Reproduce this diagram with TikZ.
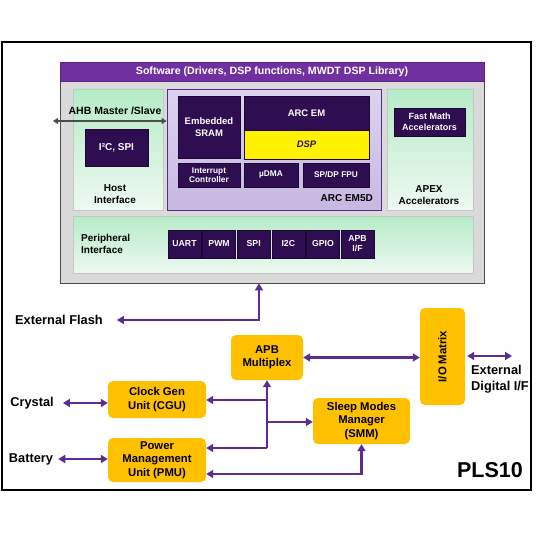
\documentclass[tikz,border=0pt]{standalone}
\usepackage{fontspec}
\setmainfont{Liberation Sans}
\usetikzlibrary{arrows.meta}
\definecolor{swpurple}{HTML}{7030A0}
\definecolor{swline}{HTML}{5A2384}
\definecolor{socgray}{HTML}{DADADA}
\definecolor{greentop}{HTML}{B6EBC8}
\definecolor{greenbot}{HTML}{EEF8F1}
\definecolor{arctop}{HTML}{DDD3EF}
\definecolor{arcbot}{HTML}{C7B7E2}
\definecolor{arcline}{HTML}{4E2E82}
\definecolor{darkpurple}{HTML}{2E0E50}
\definecolor{darkline}{HTML}{1C0633}
\definecolor{unitorange}{HTML}{FFC000}
\definecolor{buspurple}{HTML}{5C2C90}
\begin{document}
\begin{tikzpicture}[x=1pt,y=-1pt,
  wh/.style 2 args={minimum width=#1pt,minimum height=#2pt},
  txt/.style={font=\fontsize{10}{12}\selectfont\bfseries,align=center,inner sep=0pt},
  small/.style={txt,font=\fontsize{8.3}{9.5}\selectfont\bfseries},
  ext/.style={txt,font=\fontsize{12.8}{16}\selectfont\bfseries},
  greenpanel/.style={draw=gray!45,top color=greentop,bottom color=greenbot,inner sep=0pt},
  core/.style={draw=arcline,line width=0.8pt,top color=arctop,bottom color=arcbot,inner sep=0pt},
  darkbox/.style={txt,draw=darkline,fill=darkpurple,text=white,font=\fontsize{9.5}{11.5}\selectfont\bfseries},
  unit/.style={txt,fill=unitorange,rounded corners=5pt,font=\fontsize{11.3}{13.5}\selectfont\bfseries},
  bus/.style={draw=buspurple,line width=2.5pt,>={Triangle[width=8pt,length=7pt]}},
  ahb/.style={draw=black!70,line width=1.5pt,>={Triangle[width=6pt,length=5pt]}}]
  \useasboundingbox (0,0) rectangle (540,540);

  % chip frame and SoC panel
  \node[draw,line width=1.5pt,wh={529}{448}] (pls) at (266.5,266) {};
  \node[draw=gray!60!black,fill=socgray,line width=0.8pt,wh={424}{221}] (soc) at (272,172.5) {};
  \node[txt,draw=swline,fill=swpurple,text=white,font=\fontsize{10.6}{12}\selectfont\bfseries,wh={424}{19}]
    (sw) at (272,71.5) {Software (Drivers, DSP functions, MWDT DSP Library)};
  \node[greenpanel,wh={90}{121}] (host) at (118,149.5) {};
  \node[core,wh={214}{121}] (arc) at (274,149.5) {};
  \node[greenpanel,wh={86}{121}] (apex) at (430,149.5) {};
  \node[greenpanel,wh={400}{57}] (periph) at (273,244.5) {};

  % host interface
  \node[txt,font=\fontsize{10.5}{12}\selectfont\bfseries] (ahbtext) at (115,111) {AHB Master /Slave};
  \node[darkbox,font=\fontsize{10}{12}\selectfont\bfseries,wh={63}{37}] (i2cspi) at (116.5,147.5) {I²C, SPI};
  \node[txt] (hosttext) at (115,194) {Host\\Interface};
  \coordinate (ahbl) at (53,121);
  \draw[ahb,<->] (ahbl) -- (arc.west |- ahbl);

  % ARC EM5D
  \node[darkbox,wh={62}{62}] (sram) at (209,127) {Embedded\\SRAM};
  \node[darkbox,wh={125}{34}] (arcem) at (306.5,113) {ARC EM};
  \node[txt,draw=darkline,fill=yellow,text=darkpurple,font=\fontsize{9.4}{11}\selectfont\bfseries\itshape,wh={125}{29}]
    (dsp) at (306.5,144.5) {DSP};
  \node[darkbox,small,wh={62}{24}] (intc) at (209,175) {Interrupt\\Controller};
  \node[darkbox,small,wh={54}{24}] (udma) at (271,175) {µDMA};
  \node[darkbox,small,wh={66}{24}] (fpu) at (336,175) {SP/DP FPU};
  \node[txt,anchor=east] (arctext) at (373,198) {ARC EM5D};

  % APEX
  \node[darkbox,font=\fontsize{9}{10.5}\selectfont\bfseries,wh={71}{28}] (fastmath) at (429.5,122) {Fast Math\\Accelerators};
  \node[txt] (apextext) at (429,195) {APEX\\Accelerators};

  % peripheral interface
  \node[txt,align=left,anchor=west] (periphtext) at (81,243.5) {Peripheral\\Interface};
  \foreach \name [count=\i from 0] in {UART,PWM,SPI,I2C,GPIO,{APB\\I/F}}
    \node[darkbox,font=\fontsize{8.7}{10}\selectfont\bfseries,wh={33}{28}] (p\i) at (184.5+34.6*\i,244) {\name};

  % units outside the SoC
  \node[unit,wh={72}{45}] (apb) at (267,357.5) {APB\\Multiplex};
  \node[unit,wh={45}{97}] (iom) at (442.5,356.5) {};
  \node[unit,fill=none,rotate=90] (iomtext) at (iom) {I/O Matrix};
  \node[unit,wh={98}{37}] (cgu) at (157,399.5) {Clock Gen\\Unit (CGU)};
  \node[unit,wh={98}{44}] (pmu) at (157,460) {Power\\Management\\Unit (PMU)};
  \node[unit,wh={97}{46}] (smm) at (361.5,421) {Sleep Modes\\Manager\\(SMM)};

  \node[ext,anchor=west] (flash) at (15,320) {External Flash};
  \node[ext] (crystal) at (32,403) {Crystal};
  \node[ext] (battery) at (31,459) {Battery};
  \node[ext,align=left,anchor=west] (extdig) at (471,379) {External\\Digital I/F};
  \node[font=\fontsize{21.5}{24}\selectfont\bfseries] (plstext) at (490,470) {PLS10};

  % connectors
  \coordinate (fl) at (259,320);
  \draw[bus,<->] ([xshift=14pt]flash.east) -- (fl) -- (fl |- soc.south);
  \draw[bus,<->] (apb.east) -- (apb.east -| iom.west);
  \coordinate (dig) at (512,356);
  \draw[bus,<->] ([xshift=2pt]iom.east |- dig) -- (dig);
  \draw[bus,<->] ([xshift=9pt]crystal.east) -- (cgu.west |- crystal.east);
  \draw[bus,<->] ([xshift=5pt]battery.east) -- (pmu.west |- battery.east);
  \coordinate (bus) at (267,448);
  \coordinate (b1) at (267,400);
  \coordinate (b2) at (267,422);
  \coordinate (b3) at (361.5,474);
  \draw[bus,->] (bus) -- (apb.south);
  \draw[bus,->] (b1) -- (b1 -| cgu.east);
  \draw[bus,->] (b2) -- (b2 -| smm.west);
  \draw[bus,->] (bus) -- (bus -| pmu.east);
  \draw[bus,<->] (b3 -| pmu.east) -- (b3) -- (smm.south);
\end{tikzpicture}
\end{document}
